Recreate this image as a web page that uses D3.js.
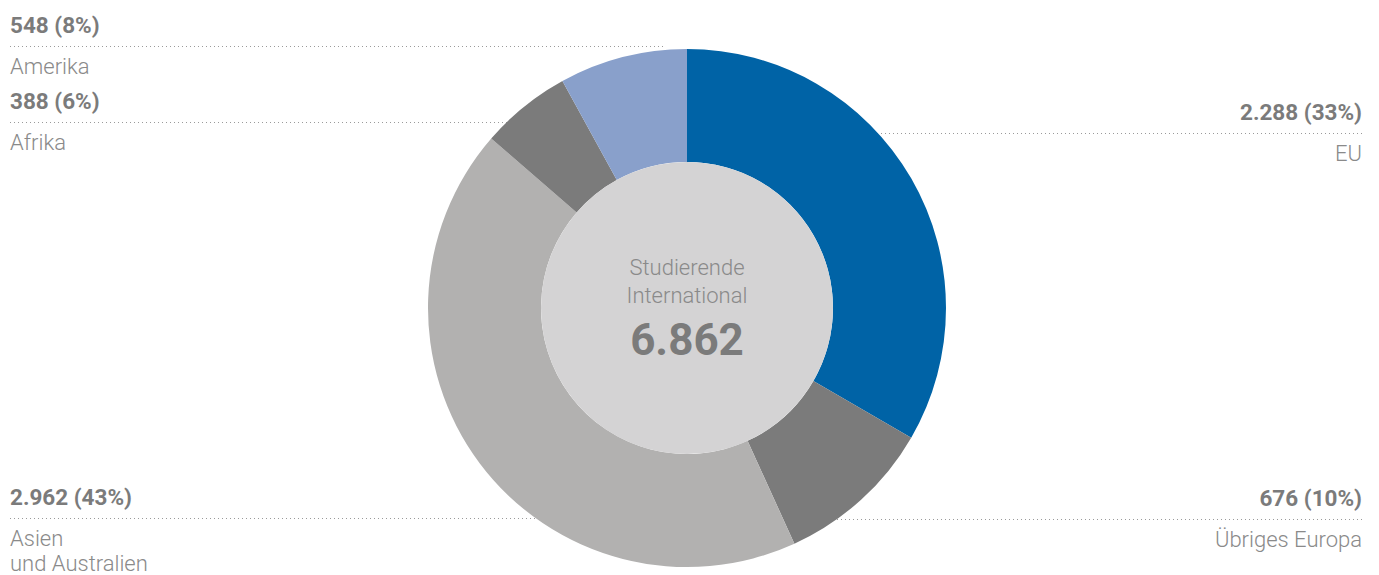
<!DOCTYPE html>
<html>
<head>
<meta charset="utf-8">
<script src="https://cdn.jsdelivr.net/npm/d3@7"></script>
<style>
  body { margin: 0; background: #fff; }
  svg { display: block; font-family: Roboto, "Liberation Sans", sans-serif; }
  .val { font-weight: 700; fill: #7b7b7b; font-size: 22.5px; }
  .name { font-weight: 300; fill: #8a8a8a; font-size: 22px; }
</style>
</head>
<body>
<div id="chart"></div>
<script>
// data, clockwise from 12 o'clock
const regions = ["EU", "Übriges Europa", "Asien und Australien", "Afrika", "Amerika"];
const counts = [2288, 676, 2962, 388, 548];
const valueLabels = ["2.288 (33%)", "676 (10%)", "2.962 (43%)", "388 (6%)", "548 (8%)"];
const nameLines = [["EU"], ["Übriges Europa"], ["Asien", "und Australien"], ["Afrika"], ["Amerika"]];
const sliceColors = ["#0063a6", "#7b7b7b", "#b2b1b0", "#7b7b7b", "#89a0cb"];
const totalLabel = "6.862";

const width = 1379, height = 575;
const cx = 687, cy = 308, outerR = 259, innerR = 146;

// label placement: side and dotted line y
const labelPos = [
  { side: "right", lineY: 133 },
  { side: "right", lineY: 519 },
  { side: "left", lineY: 518 },
  { side: "left", lineY: 122 },
  { side: "left", lineY: 46 }
];

const svg = d3.select("#chart").append("svg")
  .attr("width", width)
  .attr("height", height);

// leader lines first, donut covers them
const labels = svg.append("g").selectAll("g")
  .data(regions.map((r, i) => ({ region: r, i: i })))
  .join("g");

labels.append("line")
  .attr("x1", d => labelPos[d.i].side == "left" ? 10 : 1362)
  .attr("x2", d => labelPos[d.i].side == "left" ? cx - 24 : cx + 24)
  .attr("y1", d => labelPos[d.i].lineY + 0.5)
  .attr("y2", d => labelPos[d.i].lineY + 0.5)
  .attr("stroke", "#9a9a9a")
  .attr("stroke-width", 1)
  .attr("stroke-dasharray", "1,3");

labels.append("text")
  .attr("class", "val")
  .attr("x", d => labelPos[d.i].side == "left" ? 10 : 1362)
  .attr("y", d => labelPos[d.i].lineY - 13)
  .attr("text-anchor", d => labelPos[d.i].side == "left" ? "start" : "end")
  .text(d => valueLabels[d.i]);

labels.each(function (d) {
  const g = d3.select(this);
  nameLines[d.i].forEach((t, k) => {
    g.append("text")
      .attr("class", "name")
      .attr("x", labelPos[d.i].side == "left" ? 10 : 1362)
      .attr("y", labelPos[d.i].lineY + 28 + k * 25)
      .attr("text-anchor", labelPos[d.i].side == "left" ? "start" : "end")
      .text(t);
  });
});

// donut
const pie = d3.pie().sort(null).value(d => d);
const arc = d3.arc().innerRadius(innerR).outerRadius(outerR);

const donut = svg.append("g")
  .attr("transform", "translate(" + cx + "," + cy + ")");

donut.selectAll("path")
  .data(pie(counts))
  .join("path")
  .attr("d", arc)
  .attr("fill", (d, i) => sliceColors[i]);

donut.append("circle")
  .attr("r", innerR)
  .attr("fill", "#d4d3d4");

donut.append("text")
  .attr("class", "name")
  .attr("text-anchor", "middle")
  .attr("y", -33)
  .text("Studierende");

donut.append("text")
  .attr("class", "name")
  .attr("text-anchor", "middle")
  .attr("y", -5)
  .text("International");

donut.append("text")
  .attr("text-anchor", "middle")
  .attr("y", 47)
  .style("font-weight", 700)
  .style("font-size", "44px")
  .style("fill", "#7b7b7b")
  .text(totalLabel);
</script>
</body>
</html>
